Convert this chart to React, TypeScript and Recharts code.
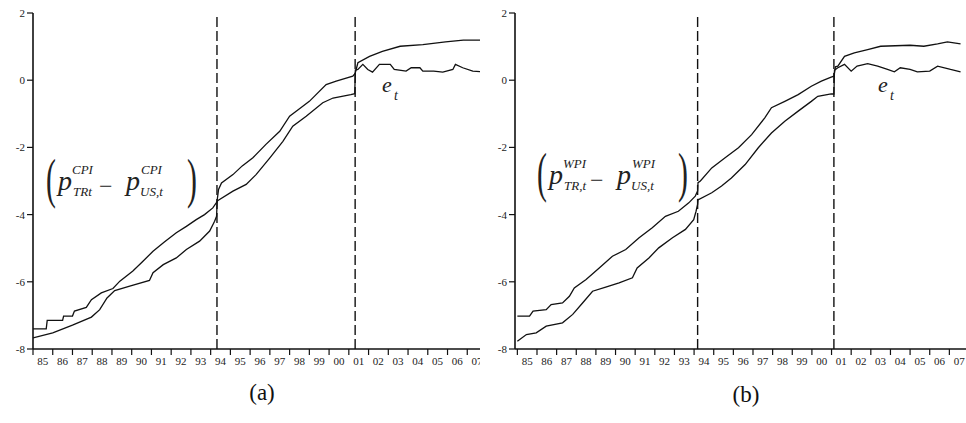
import React from 'react';
import { LineChart, Line, XAxis, YAxis, ReferenceLine } from 'recharts';

// Tick values
const yearTicks = [1985, 1986, 1987, 1988, 1989, 1990, 1991, 1992, 1993, 1994, 1995, 1996, 1997, 1998, 1999, 2000, 2001, 2002, 2003, 2004, 2005, 2006, 2007, 2008];
const valueTicks = [-8, -6, -4, -2, 0, 2];

// Panel (a): CPI-based price differential (upper line)
const aPriceT = [1985.0, 1985.67, 1985.72, 1986.5, 1986.55, 1987.0, 1987.1, 1987.7, 1987.96, 1988.46, 1989.05, 1989.4, 1990.06, 1990.57, 1991.08, 1991.67, 1992.26, 1992.77, 1993.27, 1993.69, 1994.11, 1994.32, 1994.4, 1994.55, 1995.13, 1995.6, 1996.14, 1996.8, 1997.5, 1998.0, 1998.5, 1999.0, 1999.85, 2000.36, 2001.2, 2001.32, 2001.46, 2002.05, 2002.7, 2003.6, 2004.75, 2005.9, 2006.8, 2007.7];
const aPriceV = [-7.4, -7.4, -7.15, -7.15, -7.02, -7.02, -6.87, -6.76, -6.53, -6.33, -6.2, -5.98, -5.68, -5.39, -5.09, -4.81, -4.54, -4.35, -4.15, -4.0, -3.8, -3.62, -3.25, -3.06, -2.81, -2.55, -2.31, -1.91, -1.52, -1.07, -0.85, -0.63, -0.13, -0.03, 0.12, 0.2, 0.52, 0.71, 0.86, 1.01, 1.06, 1.14, 1.19, 1.19];

// Panel (a): exchange rate e_t (lower line)
const aRateT = [1985.0, 1986.0, 1987.0, 1987.96, 1988.38, 1988.75, 1989.14, 1989.9, 1990.9, 1991.08, 1991.6, 1992.26, 1992.77, 1993.44, 1993.95, 1994.2, 1994.3, 1994.33, 1994.37, 1995.13, 1995.8, 1996.3, 1997.0, 1997.66, 1998.16, 1998.84, 1999.68, 2000.2, 2001.1, 2001.3, 2001.33, 2001.46, 2001.71, 2001.96, 2002.2, 2002.55, 2003.1, 2003.3, 2003.9, 2004.16, 2004.6, 2004.75, 2005.3, 2005.76, 2006.27, 2006.4, 2006.77, 2007.28, 2007.7];
const aRateV = [-7.67, -7.52, -7.29, -7.05, -6.83, -6.48, -6.26, -6.13, -5.96, -5.73, -5.49, -5.29, -5.04, -4.79, -4.49, -4.2, -4.05, -3.6, -3.58, -3.3, -3.1, -2.81, -2.31, -1.82, -1.37, -1.07, -0.67, -0.53, -0.43, -0.4, 0.3, 0.32, 0.47, 0.32, 0.24, 0.47, 0.47, 0.32, 0.27, 0.37, 0.37, 0.27, 0.27, 0.24, 0.32, 0.47, 0.37, 0.27, 0.25];

// Panel (b): WPI-based price differential (upper line)
const bPriceT = [1985.0, 1985.62, 1985.8, 1986.47, 1986.72, 1987.3, 1987.65, 1987.9, 1988.5, 1989.17, 1989.84, 1990.52, 1991.2, 1991.87, 1992.54, 1993.2, 1993.73, 1994.06, 1994.18, 1994.2, 1994.32, 1994.9, 1995.58, 1996.26, 1996.93, 1997.6, 1997.94, 1998.62, 1999.3, 1999.97, 2000.48, 2000.98, 2001.12, 2001.2, 2001.32, 2001.66, 2002.16, 2002.84, 2003.5, 2005.0, 2005.7, 2006.4, 2006.9, 2007.57];
const bPriceV = [-7.02, -7.02, -6.87, -6.83, -6.68, -6.63, -6.43, -6.18, -5.93, -5.59, -5.24, -5.04, -4.69, -4.39, -4.05, -3.9, -3.65, -3.45, -3.3, -3.05, -3.0, -2.61, -2.31, -2.01, -1.62, -1.12, -0.82, -0.63, -0.43, -0.18, -0.03, 0.09, 0.12, 0.4, 0.42, 0.71, 0.81, 0.91, 1.01, 1.04, 1.01, 1.08, 1.14, 1.08];

// Panel (b): exchange rate e_t (lower line)
const bRateT = [1985.0, 1985.46, 1985.96, 1986.47, 1987.3, 1987.82, 1988.32, 1988.83, 1989.5, 1990.18, 1990.86, 1991.1, 1991.7, 1992.2, 1992.9, 1993.56, 1993.98, 1994.1, 1994.18, 1994.2, 1994.23, 1994.9, 1995.4, 1995.9, 1996.6, 1997.27, 1997.94, 1998.62, 1999.3, 1999.97, 2000.3, 2000.98, 2001.12, 2001.15, 2001.32, 2001.66, 2002.0, 2002.3, 2002.84, 2003.35, 2003.85, 2004.2, 2004.5, 2005.0, 2005.37, 2006.0, 2006.4, 2007.06, 2007.57];
const bRateV = [-7.77, -7.57, -7.52, -7.32, -7.22, -6.97, -6.63, -6.28, -6.16, -6.03, -5.88, -5.59, -5.29, -4.99, -4.69, -4.44, -4.15, -3.9, -3.7, -3.55, -3.55, -3.35, -3.15, -2.91, -2.51, -2.01, -1.57, -1.22, -0.92, -0.63, -0.48, -0.41, -0.41, 0.3, 0.37, 0.47, 0.27, 0.42, 0.49, 0.42, 0.32, 0.25, 0.37, 0.32, 0.25, 0.27, 0.42, 0.32, 0.25];

// Break dates (vertical dashed lines)
const breaksA = [1994.32, 2001.32];
const breaksB = [1994.18, 2001.12];

const toPoints = (t: number[], v: number[]) => t.map((x, i) => ({ t: x, v: v[i] }));

const TICK_FONT = 'Liberation Serif';

function YearTick(props: any) {
  const { x, y, payload } = props;
  if (payload.value >= 2008) return null;
  const label = String(payload.value % 100).padStart(2, '0');
  return (
    <text x={x + 9.8} y={y + 8} textAnchor="middle" fontSize={11} fontFamily={TICK_FONT} fill="#222">
      {label}
    </text>
  );
}

function Panel({ left, width, domain, price, rate, breaks }: any) {
  return (
    <div style={{ position: 'absolute', left, top: 0, width, height: 423, overflow: 'hidden' }}>
      <LineChart width={495} height={423} margin={{ top: 13, right: 8, bottom: 44, left: 0 }}>
        <XAxis
          type="number"
          dataKey="t"
          domain={domain}
          allowDataOverflow
          ticks={yearTicks}
          interval={0}
          tick={<YearTick />}
          tickSize={6}
          tickMargin={2}
          height={30}
          axisLine={{ stroke: '#111', strokeWidth: 1.6 }}
          tickLine={{ stroke: '#111', strokeWidth: 1.2 }}
        />
        <YAxis
          type="number"
          domain={[-8, 2]}
          ticks={valueTicks}
          interval={0}
          width={33}
          tickSize={6}
          tickMargin={2}
          tick={{ fontSize: 11, fill: '#222', fontFamily: TICK_FONT }}
          axisLine={{ stroke: '#111', strokeWidth: 1.6 }}
          tickLine={{ stroke: '#111', strokeWidth: 1.2 }}
        />
        {breaks.map((b: number) => (
          <ReferenceLine key={b} x={b} stroke="#111" strokeWidth={1.4} strokeDasharray="10 4" />
        ))}
        <Line data={price} dataKey="v" type="linear" stroke="#111" strokeWidth={1.3} dot={false} isAnimationActive={false} />
        <Line data={rate} dataKey="v" type="linear" stroke="#111" strokeWidth={1.3} dot={false} isAnimationActive={false} />
      </LineChart>
    </div>
  );
}

function Diff({ dx, dy, sup, subA }: any) {
  return (
    <g transform={`translate(${dx},${dy})`} fontFamily="Liberation Serif" fill="#222">
      <text transform="translate(46,197) scale(0.55,1)" fontSize={54}>(</text>
      <text x={58} y={190} fontSize={28} fontStyle="italic">p</text>
      <text x={72} y={174} fontSize={13} fontStyle="italic">{sup}</text>
      <text x={73} y={196} fontSize={13} fontStyle="italic">{subA}</text>
      <text x={99} y={194} fontSize={24}>−</text>
      <text x={126} y={190} fontSize={28} fontStyle="italic">p</text>
      <text x={141} y={174} fontSize={13} fontStyle="italic">{sup}</text>
      <text x={140} y={196} fontSize={13} fontStyle="italic">US,t</text>
      <text transform="translate(187,197) scale(0.55,1)" fontSize={54}>)</text>
    </g>
  );
}

function Et({ x }: any) {
  return (
    <g fontFamily="Liberation Serif" fill="#222" fontStyle="italic">
      <text x={x} y={92} fontSize={22}>e</text>
      <text x={x + 12} y={100} fontSize={14}>t</text>
    </g>
  );
}

export default function App() {
  return (
    <div style={{ position: 'absolute', left: 0, top: 0, width: 966, height: 423, overflow: 'hidden', background: '#fff' }}>
      <Panel left={0} width={480} domain={[1985, 2008]} price={toPoints(aPriceT, aPriceV)} rate={toPoints(aRateT, aRateV)} breaks={breaksA} />
      <Panel left={482} width={484} domain={[1984.88, 2008]} price={toPoints(bPriceT, bPriceV)} rate={toPoints(bRateT, bRateV)} breaks={breaksB} />
      <svg width={966} height={423} style={{ position: 'absolute', left: 0, top: 0, pointerEvents: 'none' }}>
        <Diff dx={0} dy={0} sup="CPI" subA="TRt" />
        <Diff dx={491} dy={-6} sup="WPI" subA="TR,t" />
        <Et x={382} />
        <Et x={878} />
        <text x={262} y={400} textAnchor="middle" fontSize={23} fontFamily="Liberation Serif" fill="#111">(a)</text>
        <text x={746} y={402} textAnchor="middle" fontSize={23} fontFamily="Liberation Serif" fill="#111">(b)</text>
      </svg>
    </div>
  );
}
